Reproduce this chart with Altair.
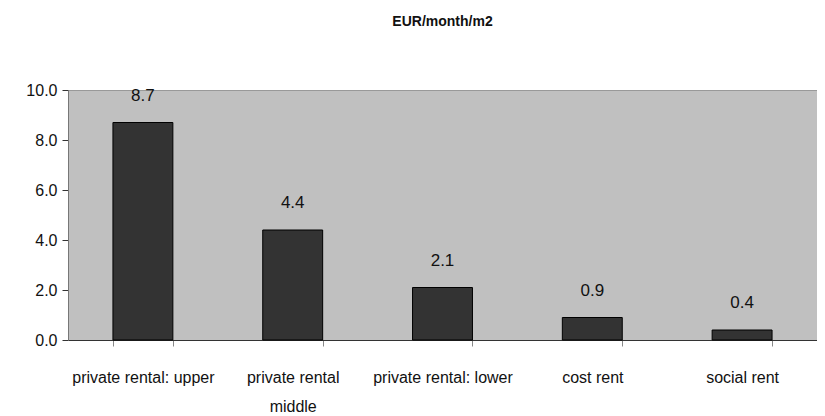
import altair as alt
import pandas as pd

categories = ["private rental: upper", "private rental middle", "private rental: lower", "cost rent", "social rent"]
values = [8.7, 4.4, 2.1, 0.9, 0.4]
labels = ["8.7", "4.4", "2.1", "0.9", "0.4"]

df = pd.DataFrame({"category": categories, "value": values, "label": labels})

FONT = "Liberation Sans Narrow, Liberation Sans, Arial"

x = alt.X(
    "category:N",
    sort=categories,
    title=None,
    scale=alt.Scale(paddingInner=0.6, paddingOuter=0.3),
    axis=alt.Axis(
        labelAngle=0,
        labelExpr="datum.value == 'private rental middle' ? ['private rental', 'middle'] : datum.value",
        labelLineHeight=29,
        labelPadding=23,
        labelFontSize=16,
        labelColor="#111",
        labelFont=FONT,
        tickBand="extent",
        tickSize=6,
        tickColor="#888",
        domainColor="#333",
        labelBaseline="top",
    ),
)

y = alt.Y(
    "value:Q",
    title=None,
    scale=alt.Scale(domain=[0, 10], nice=False),
    axis=alt.Axis(
        values=[0, 2, 4, 6, 8, 10],
        format=".1f",
        labelFontSize=16,
        labelColor="#111",
        labelFont=FONT,
        tickSize=6,
        tickColor="#333",
        domainColor="#777",
        grid=False,
        labelPadding=5,
    ),
)

bars = alt.Chart(df).mark_bar(color="#333333", stroke="#000000", strokeWidth=1).encode(x=x, y=y)

text = alt.Chart(df).mark_text(dy=-27, fontSize=17, font=FONT, color="#111", baseline="middle").encode(
    x=alt.X("category:N", sort=categories),
    y="value:Q",
    text="label:N",
)

chart = (
    alt.layer(bars, text)
    .properties(
        width=749,
        height=250,
        title=alt.TitleParams("EUR/month/m2", fontSize=14, font=FONT, fontWeight="bold", offset=53, color="#111"),
        autosize=alt.AutoSizeParams(type="none"),
        padding={"left": 60, "top": 82, "right": 0, "bottom": 76},
    )
    .configure(background="white")
    .configure_view(fill="#C0C0C0", stroke="#999999", strokeWidth=1)
)

chart.save("out.html", embed_options={"renderer": "svg", "actions": False})
